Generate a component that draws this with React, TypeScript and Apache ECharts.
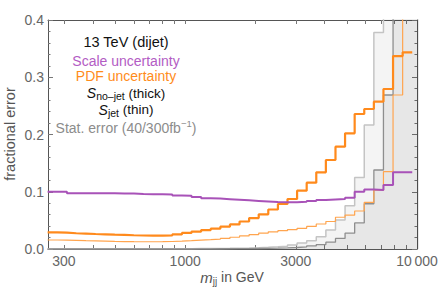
import React, { useEffect, useRef } from 'react';
import * as echarts from 'echarts';

// bin edges of the m_jj histogram (GeV)
const binEdges = [255, 281, 309, 339, 373, 411, 452, 497, 547, 601, 661, 728, 800, 880, 968, 1065, 1172, 1289, 1418, 1560, 1716, 1887, 2076, 2283, 2512, 2763, 3039, 3343, 3677, 4045, 4450, 4894, 5384, 5922, 6515, 7166, 7883, 8671, 9538, 10492];

// scale uncertainty (purple)
const scaleUnc = [0.100, 0.100, 0.0975, 0.0975, 0.0973, 0.0973, 0.0972, 0.0970, 0.0968, 0.0962, 0.0958, 0.0955, 0.095, 0.0935, 0.093, 0.091, 0.0885, 0.088, 0.087, 0.086, 0.085, 0.084, 0.083, 0.082, 0.0815, 0.0815, 0.0825, 0.084, 0.0855, 0.0865, 0.0875, 0.0895, 0.100, 0.104, 0.103, 0.112, 0.134, 0.134];

// PDF uncertainty, S_no-jet (thick orange)
const pdfNoJet = [0.0290, 0.0285, 0.0275, 0.0270, 0.0262, 0.0256, 0.0250, 0.0245, 0.0240, 0.0236, 0.0233, 0.0233, 0.0236, 0.0255, 0.0280, 0.0305, 0.0330, 0.0355, 0.0390, 0.0430, 0.0480, 0.0540, 0.0605, 0.0690, 0.0786, 0.0873, 0.1018, 0.1158, 0.1340, 0.1555, 0.1787, 0.2020, 0.2358, 0.2445, 0.2573, 0.2795, 0.3370, 0.3436];

// PDF uncertainty, S_jet (thin orange)
const pdfJet = [0.0157, 0.0155, 0.0150, 0.0145, 0.0141, 0.0137, 0.0133, 0.0130, 0.0128, 0.0127, 0.0127, 0.0128, 0.0131, 0.0136, 0.0145, 0.0155, 0.0163, 0.0172, 0.0185, 0.0205, 0.0228, 0.0252, 0.0278, 0.0300, 0.0320, 0.0340, 0.0362, 0.0395, 0.0437, 0.0480, 0.0555, 0.0590, 0.0664, 0.0815, 0.1030, 0.1350, 0.2690, 0.5200];

// statistical error, 40 fb^-1 (light grey)
const stat40 = [0.0003, 0.0003, 0.0003, 0.0003, 0.0003, 0.0003, 0.0003, 0.0003, 0.0003, 0.0003, 0.0004, 0.0004, 0.0005, 0.0005, 0.0006, 0.0007, 0.0008, 0.0010, 0.0012, 0.0015, 0.0019, 0.0024, 0.0030, 0.0038, 0.0050, 0.0070, 0.0105, 0.0145, 0.0215, 0.0332, 0.0507, 0.0757, 0.1250, 0.2166, 0.3780, 0.7400, 1.5, 2.5, 4.0];

// statistical error, 300 fb^-1 (dark grey)
const stat300 = [0.0001, 0.0001, 0.0001, 0.0001, 0.0001, 0.0001, 0.0001, 0.0001, 0.0001, 0.0001, 0.00015, 0.00015, 0.0002, 0.0002, 0.0002, 0.00025, 0.0003, 0.0004, 0.00045, 0.00055, 0.0007, 0.0009, 0.0011, 0.0014, 0.0018, 0.0026, 0.0038, 0.0053, 0.0078, 0.0120, 0.0185, 0.0276, 0.0456, 0.0790, 0.1380, 0.2690, 0.55, 0.9, 1.5];

const xLabelValues = [300, 1000, 3000, 10000];
const xTickValues = [300, 400, 500, 600, 700, 800, 900, 1000, 2000, 3000, 4000, 5000, 6000, 7000, 8000, 9000];
const yMin = 0;
const yMax = 0.4;
const yStep = 0.1;

const FONT = '"Liberation Sans", Arial, sans-serif';

function stepData(vals: number[]) {
  const pts: number[][] = vals.map((v, i) => [binEdges[i], v]);
  pts.push([binEdges[vals.length], vals[vals.length - 1]]);
  return pts;
}

function xAxisCfg(position: 'bottom' | 'top', labels: boolean) {
  return {
    type: 'log',
    logBase: 10,
    min: 256,
    max: 10000,
    position,
    axisLine: { show: true, onZero: false, lineStyle: { color: '#555', width: 1 } },
    axisTick: {
      show: true,
      inside: true,
      length: 4,
      customValues: xTickValues,
      lineStyle: { color: '#777', width: 1 },
    },
    minorTick: { show: false },
    splitLine: { show: false },
    axisLabel: labels
      ? {
          show: true,
          customValues: xLabelValues,
          margin: 5,
          color: '#666',
          fontSize: 14,
          fontFamily: FONT,
          formatter: (v: number) => (v === 10000 ? '10\u2009000' : String(v)),
        }
      : { show: false },
  };
}

function yAxisCfg(position: 'left' | 'right', labels: boolean) {
  return {
    type: 'value',
    min: yMin,
    max: yMax,
    interval: yStep,
    position,
    axisLine: { show: true, onZero: false, lineStyle: { color: '#555', width: 1 } },
    axisTick: { show: true, inside: true, length: 5, lineStyle: { color: '#777', width: 1 } },
    minorTick: { show: true, splitNumber: 5, length: 2.5, lineStyle: { color: '#777', width: 1 } },
    splitLine: { show: false },
    minorSplitLine: { show: false },
    axisLabel: labels
      ? {
          show: true,
          margin: 4,
          color: '#666',
          fontSize: 14,
          fontFamily: FONT,
          formatter: (v: number) => v.toFixed(1),
        }
      : { show: false },
  };
}

export default function App() {
  const ref = useRef<HTMLDivElement>(null);

  useEffect(() => {
    if (!ref.current) return;
    const chart = echarts.init(ref.current, undefined, { renderer: 'svg' });
    const option: any = {
      animation: false,
      backgroundColor: '#ffffff',
      grid: { left: 48, right: 24, top: 20, bottom: 49, outerBoundsMode: 'none' },
      xAxis: [xAxisCfg('bottom', true), xAxisCfg('top', false)],
      yAxis: [yAxisCfg('left', true), yAxisCfg('right', false)],
      series: [
        {
          name: 'Stat. error 40 fb-1',
          type: 'line',
          step: 'end',
          data: stepData(stat40),
          symbol: 'none',
          clip: true,
          lineStyle: { color: '#c4c4c4', width: 1.5 },
          areaStyle: { color: 'rgba(0,0,0,0.06)' },
          silent: true,
          z: 1,
        },
        {
          name: 'Stat. error 300 fb-1',
          type: 'line',
          step: 'end',
          data: stepData(stat300),
          symbol: 'none',
          clip: true,
          lineStyle: { color: '#8e8e8e', width: 1.3 },
          areaStyle: { color: 'rgba(0,0,0,0.075)' },
          silent: true,
          z: 2,
        },
        {
          name: 'PDF uncertainty (jet)',
          type: 'line',
          step: 'end',
          data: stepData(pdfJet),
          symbol: 'none',
          clip: true,
          lineStyle: { color: '#ffa54f', width: 1.2 },
          silent: true,
          z: 3,
        },
        {
          name: 'PDF uncertainty (no-jet)',
          type: 'line',
          step: 'end',
          data: stepData(pdfNoJet),
          symbol: 'none',
          clip: true,
          lineStyle: { color: '#ff8a1c', width: 2.2 },
          silent: true,
          z: 4,
        },
        {
          name: 'Scale uncertainty',
          type: 'line',
          step: 'end',
          data: stepData(scaleUnc),
          symbol: 'none',
          clip: true,
          lineStyle: { color: '#a852b8', width: 2 },
          silent: true,
          z: 5,
        },
      ],
      graphic: [
        {
          type: 'text',
          x: 126,
          y: 41.5,
          style: { text: '13 TeV (dijet)', fill: '#111', fontSize: 14.5, fontFamily: FONT, textAlign: 'center', textVerticalAlign: 'middle' },
        },
        {
          type: 'text',
          x: 126,
          y: 61,
          style: { text: 'Scale uncertainty', fill: '#b35cc4', fontSize: 14, fontFamily: FONT, textAlign: 'center', textVerticalAlign: 'middle' },
        },
        {
          type: 'text',
          x: 126,
          y: 75.7,
          style: { text: 'PDF uncertainty', fill: '#ff8c1a', fontSize: 14, fontFamily: FONT, textAlign: 'center', textVerticalAlign: 'middle' },
        },
        {
          type: 'text',
          x: 126,
          y: 93,
          style: {
            text: '{s|S}{sub|no\u2013jet}{n| (thick)}',
            fill: '#111',
            fontSize: 13.5,
            fontFamily: FONT,
            textAlign: 'center',
            textVerticalAlign: 'middle',
            rich: {
              s: { fontSize: 14, fontStyle: 'italic', fontFamily: FONT, fill: '#111' },
              sub: { fontSize: 10.5, fontFamily: FONT, fill: '#111', padding: [6, 0, 0, 0] },
              n: { fontSize: 13.5, fontFamily: FONT, fill: '#111' },
            },
          },
        },
        {
          type: 'text',
          x: 126,
          y: 109.5,
          style: {
            text: '{s|S}{sub|jet}{n| (thin)}',
            fill: '#111',
            fontSize: 13.5,
            fontFamily: FONT,
            textAlign: 'center',
            textVerticalAlign: 'middle',
            rich: {
              s: { fontSize: 14, fontStyle: 'italic', fontFamily: FONT, fill: '#111' },
              sub: { fontSize: 10.5, fontFamily: FONT, fill: '#111', padding: [6, 0, 0, 0] },
              n: { fontSize: 13.5, fontFamily: FONT, fill: '#111' },
            },
          },
        },
        {
          type: 'text',
          x: 126,
          y: 127.7,
          style: {
            text: '{n|Stat. error (40/300fb}{sup|\u22121}{n|)}',
            fill: '#8c8c8c',
            fontSize: 14,
            fontFamily: FONT,
            textAlign: 'center',
            textVerticalAlign: 'middle',
            rich: {
              n: { fontSize: 14, fontFamily: FONT, fill: '#8c8c8c' },
              sup: { fontSize: 9.5, fontFamily: FONT, fill: '#8c8c8c', padding: [0, 0, 9, 0] },
            },
          },
        },
        {
          type: 'text',
          x: 10,
          y: 134,
          rotation: Math.PI / 2,
          style: { text: 'fractional error', fill: '#555', fontSize: 14.5, fontFamily: FONT, textAlign: 'center', textVerticalAlign: 'middle' },
        },
        {
          type: 'text',
          x: 232,
          y: 277,
          style: {
            text: '{m|m}{sub|jj}{n| in GeV}',
            fill: '#555',
            fontSize: 14,
            fontFamily: FONT,
            textAlign: 'center',
            textVerticalAlign: 'middle',
            rich: {
              m: { fontSize: 15, fontStyle: 'italic', fontFamily: FONT, fill: '#555' },
              sub: { fontSize: 10, fontFamily: FONT, fill: '#555', padding: [8, 0, 0, 0] },
              n: { fontSize: 14, fontFamily: FONT, fill: '#555' },
            },
          },
        },
      ],
    };
    chart.setOption(option);
    return () => {
      chart.dispose();
    };
  }, []);

  return (
    <div
      ref={ref}
      style={{ position: 'absolute', left: 0, top: 0, width: 441, height: 298, background: '#fff' }}
    />
  );
}
